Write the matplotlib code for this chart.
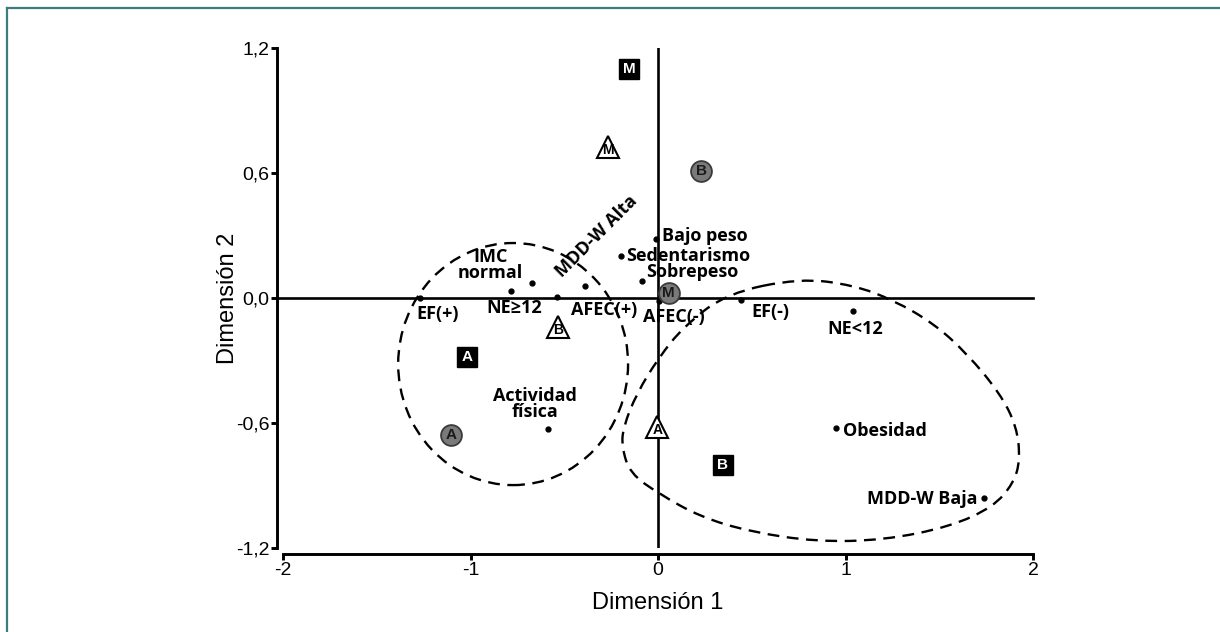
import numpy as np
import matplotlib
matplotlib.use("Agg")
import matplotlib.pyplot as plt
from matplotlib.patches import Ellipse, PathPatch
from matplotlib.path import Path
from matplotlib.lines import Line2D
from matplotlib.ticker import FuncFormatter

# ── Data ─────────────────────────────────────────────────────────────────────
var_labels = ["Bajo peso", "Sedentarismo", "Sobrepeso", "AFEC(-)", "AFEC(+)",
              "EF(-)", "EF(+)", "NE<12", "NE≥12", "IMC\nnormal", "MDD-W Alta",
              "MDD-W Baja", "Obesidad", "Actividad\nfísica"]
var_x = [-0.011, -0.199, -0.087, 0.005, -0.389, 0.443, -1.27, 1.038, -0.784,
         -0.674, -0.539, 1.739, 0.951, -0.585]
var_y = [0.283, 0.202, 0.082, -0.014, 0.058, -0.010, 0.0, -0.061, 0.034,
         0.073, 0.003, -0.962, -0.623, -0.629]

cat_letters = ["A", "B", "M"]
square_x = [-1.017, 0.345, -0.156]
square_y = [-0.285, -0.803, 1.099]
circle_x = [-1.106, 0.229, 0.057]
circle_y = [-0.658, 0.611, 0.025]
triangle_x = [-0.004, -0.535, -0.268]
triangle_y = [-0.618, -0.138, 0.726]

# cluster outlines
left_center = (-0.773, -0.317)
left_half_w = 0.613
left_half_h = 0.581
right_outline_x = [0.757, 1.042, 1.255, 1.468, 1.646, 1.824, 1.913, 1.931, 1.895,
                   1.788, 1.557, 1.202, 0.846, 0.491, 0.224, 0.002, -0.149,
                   -0.194, -0.185, -0.114, 0.002, 0.135, 0.366]
right_outline_y = [0.095, 0.062, -0.010, -0.121, -0.265, -0.458, -0.618, -0.778,
                   -0.890, -1.002, -1.098, -1.162, -1.170, -1.122, -1.050, -0.938,
                   -0.842, -0.714, -0.618, -0.458, -0.288, -0.138, 0.023]

x_ticks = [-2, -1, 0, 1, 2]
y_ticks = [-1.2, -0.6, 0.0, 0.6, 1.2]

# label offsets in pixels (dx, dy, ha, rotation)
label_style = {
    "Bajo peso": (6, 3, "left", 0),
    "Sedentarismo": (5, 0, "left", 0),
    "Sobrepeso": (4, 9, "left", 0),
    "AFEC(-)": (15, -16, "center", 0),
    "AFEC(+)": (19, -24, "center", 0),
    "EF(-)": (29, -12, "center", 0),
    "EF(+)": (18, -16, "center", 0),
    "NE<12": (3, -18, "center", 0),
    "NE≥12": (3, -17, "center", 0),
    "IMC\nnormal": (-41, 18, "center", 0),
    "MDD-W Alta": (40, 61, "center", 45),
    "MDD-W Baja": (-7, -1, "right", 0),
    "Obesidad": (7, -3, "left", 0),
    "Actividad\nfísica": (-13, 25, "center", 0),
}

lab_font = ["Open Sans", "DejaVu Sans"]
axis_font = ["Liberation Sans", "DejaVu Sans"]

fig = plt.figure(figsize=(12.2, 6.32), dpi=100)

# teal frame (left + top edges)
fig.add_artist(Line2D([0.0057, 0.0057], [0.0, 0.9873], transform=fig.transFigure,
                      color="#3d7d7d", lw=1.6))
fig.add_artist(Line2D([0.0057, 1.0], [0.9873, 0.9873], transform=fig.transFigure,
                      color="#3d7d7d", lw=1.6))

ax = fig.add_axes([0.232, 0.1329, 0.6148, 0.7911])
ax.set_xlim(-2, 2)
ax.set_ylim(-1.2, 1.2)

for s in ["top", "right"]:
    ax.spines[s].set_visible(False)
ax.spines["left"].set_position(("outward", 4))
ax.spines["bottom"].set_position(("outward", 4))
ax.spines["left"].set_bounds(-1.2, 1.2)
ax.spines["bottom"].set_bounds(-2, 2)
for s in ["left", "bottom"]:
    ax.spines[s].set_linewidth(2.1)

ax.set_xticks(x_ticks)
ax.set_yticks(y_ticks)
ax.xaxis.set_major_formatter(FuncFormatter(lambda v, p: f"{v:.0f}"))
ax.yaxis.set_major_formatter(FuncFormatter(lambda v, p: f"{v:.1f}".replace(".", ",")))
ax.tick_params(width=2.1, length=4, labelsize=14, pad=2)
for t in ax.get_xticklabels() + ax.get_yticklabels():
    t.set_family(axis_font)

ax.text(0.5, -0.11, "Dimensión 1", transform=ax.transAxes, ha="center", va="center",
        fontsize=17, family=axis_font)
ax.text(-0.0735, 0.5, "Dimensión 2", transform=ax.transAxes, ha="center", va="center",
        rotation=90, fontsize=17, family=axis_font)

# zero lines (horizontal one runs into the left spine)
ax.axhline(0, xmin=-0.008, color="black", lw=1.9, zorder=1, clip_on=False)
ax.axvline(0, color="black", lw=1.9, zorder=1)

# cluster outlines
ax.add_patch(Ellipse(left_center, 2 * left_half_w, 2 * left_half_h, fill=False,
                     ls=(0, (5, 3.2)), lw=1.7, ec="black", zorder=2))
pts = np.column_stack([right_outline_x, right_outline_y])
mids = (pts + np.roll(pts, -1, axis=0)) / 2
verts = [mids[-1]]
codes = [Path.MOVETO]
for i in range(len(pts)):
    verts += [pts[i], mids[i]]
    codes += [Path.CURVE3, Path.CURVE3]
ax.add_patch(PathPatch(Path(verts, codes), fill=False, ls=(0, (5, 3.2)), lw=1.7,
                       ec="black", zorder=2))

# variable categories
ax.plot(var_x, var_y, "o", color="black", ms=3.5, zorder=4)
for lab, x, y in zip(var_labels, var_x, var_y):
    dx, dy, ha, rot = label_style[lab]
    ax.annotate(lab, (x, y), xytext=(dx, dy), textcoords="offset pixels",
                ha=ha, va="center", rotation=rot, rotation_mode="anchor",
                fontsize=13, fontweight="bold", family=lab_font,
                linespacing=0.82, zorder=5)

# group markers
ax.plot(square_x, square_y, "s", ms=15, mfc="black", mec="black", zorder=6)
ax.plot(circle_x, circle_y, "o", ms=15, mfc="#7a7a7a", mec="#3a3a3a", mew=1.3, zorder=6)
ax.plot(triangle_x, triangle_y, "^", ms=16.5, mfc="white", mec="black", mew=1.5, zorder=6)
for lt, x, y in zip(cat_letters, square_x, square_y):
    ax.text(x, y, lt, ha="center", va="center", color="white", fontsize=11,
            fontweight="bold", family=axis_font, zorder=7)
for lt, x, y in zip(cat_letters, circle_x, circle_y):
    ax.text(x, y, lt, ha="center", va="center", color="#1a1a1a", fontsize=11,
            fontweight="bold", family=axis_font, zorder=7)
for lt, x, y in zip(cat_letters, triangle_x, triangle_y):
    ax.annotate(lt, (x, y), xytext=(0, -3), textcoords="offset pixels",
                ha="center", va="center", color="black", fontsize=10,
                fontweight="bold", family=axis_font, zorder=7)

fig.savefig("out.png", dpi=100, facecolor="white")
